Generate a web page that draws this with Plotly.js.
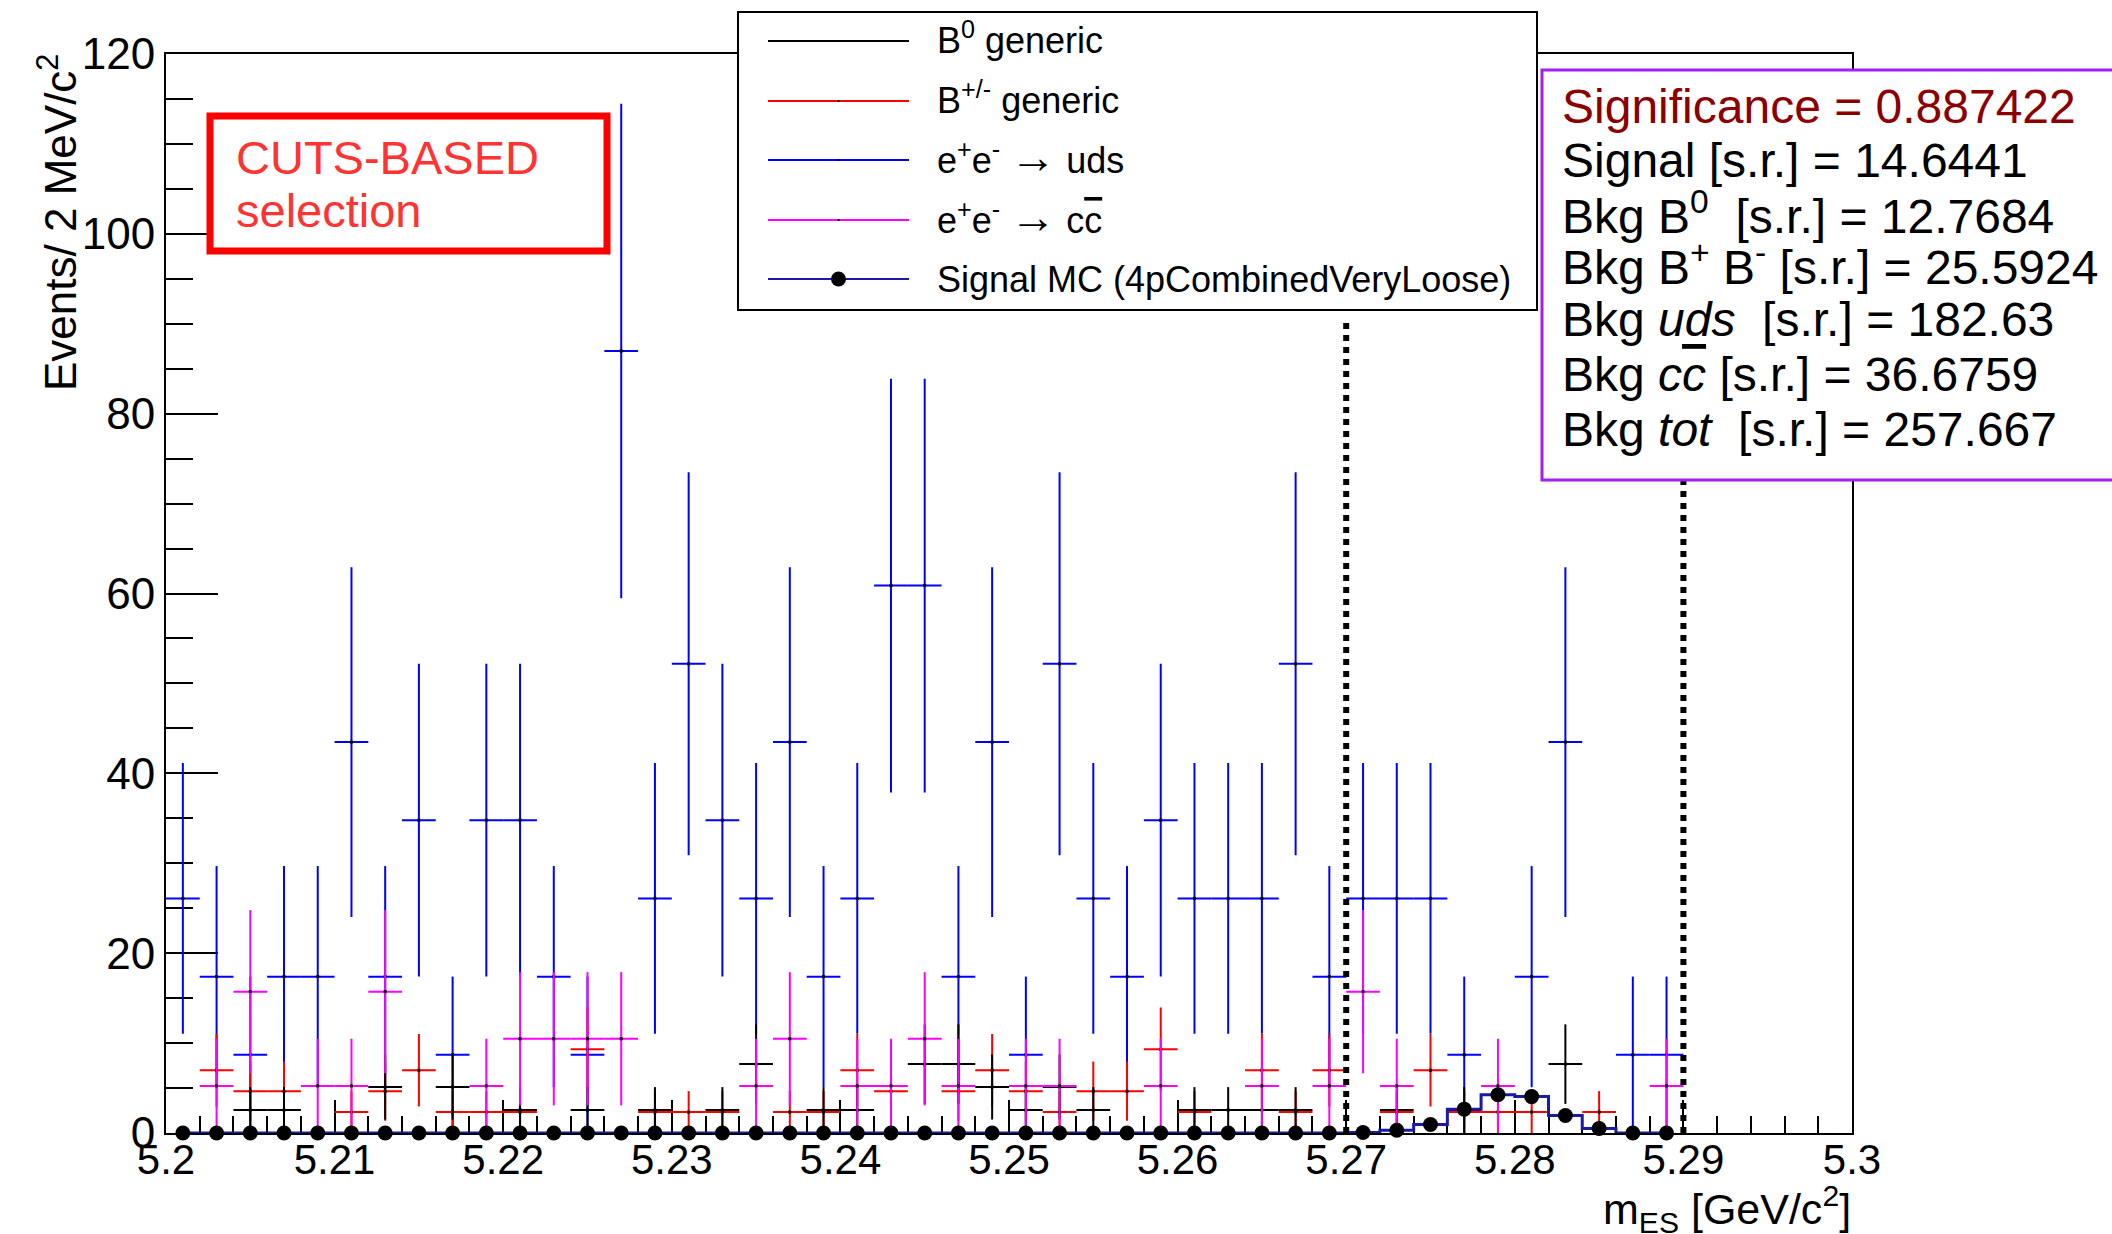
<!DOCTYPE html>
<html><head><meta charset="utf-8">
<script src="https://cdn.plot.ly/plotly-3.0.1.min.js"></script>
<style>html,body{margin:0;padding:0;background:#fff;} #chart{width:2112px;height:1234px;}</style>
</head><body><div id="chart"></div>
<script>
// ---------- data ----------
const mES = [5.201,5.203,5.205,5.207,5.209,5.211,5.213,5.215,5.217,5.219,
             5.221,5.223,5.225,5.227,5.229,5.231,5.233,5.235,5.237,5.239,
             5.241,5.243,5.245,5.247,5.249,5.251,5.253,5.255,5.257,5.259,
             5.261,5.263,5.265,5.267,5.269,5.271,5.273,5.275,5.277,5.279,
             5.281,5.283,5.285,5.287,5.289];

const bkgB0 = [0,0,2.55,2.55,0,0,5.11,0,5.11,0,
               2.55,0,2.55,0,2.55,0,2.55,7.66,0,2.55,
               2.55,0,7.66,7.66,5.11,2.55,5.11,2.55,0,0,
               2.55,2.55,2.55,2.55,0,0,2.55,0,2.55,0,
               0,7.66,0,0,0];

const bkgBpm = [0,6.98,4.65,4.65,0,2.33,4.65,6.98,2.33,2.33,
                2.33,0,9.31,0,2.33,2.33,2.33,0,2.33,2.33,
                6.98,4.65,0,4.65,6.98,4.65,2.33,4.65,4.65,9.31,
                2.33,0,6.98,2.33,6.98,0,2.33,6.98,2.33,2.33,
                2.33,0,2.33,0,0];

const bkgUds = [26.09,17.39,8.70,17.39,17.39,43.48,17.39,34.79,8.70,34.79,
                34.79,17.39,8.70,86.97,26.09,52.18,34.79,26.09,43.48,17.39,
                26.09,60.88,60.88,17.39,43.48,8.70,52.18,26.09,17.39,34.79,
                26.09,26.09,26.09,52.18,17.39,26.09,26.09,26.09,8.70,0,
                17.39,43.48,0,8.70,8.70];

const bkgCc = [0,5.24,15.72,0,5.24,5.24,15.72,0,0,5.24,
               10.48,10.48,10.48,10.48,0,0,0,5.24,10.48,0,
               5.24,5.24,10.48,5.24,0,5.24,5.24,0,0,5.24,
               0,0,5.24,0,5.24,15.72,5.24,0,0,5.24,
               0,0,0,0,5.24];

const sigMC = [0,0,0,0,0,0,0,0,0,0,
               0,0,0,0,0,0,0,0,0,0,
               0,0,0,0,0,0,0,0,0,0,
               0,0,0,0,0,0.05,0.3,0.95,2.65,4.25,
               4.05,1.95,0.5,0,0];

// per-event weights of each weighted MC sample (errors = sqrt(sum w^2))
const wB0 = 2.5537, wBpm = 2.3266, wUds = 8.6967, wCc = 5.2394;
const halfBin = 0.001;
const signalRegion = [5.27, 5.29];
const signalRegionTop = 90.5;

const xTickVals = [5.2,5.21,5.22,5.23,5.24,5.25,5.26,5.27,5.28,5.29,5.3];
const xTickText = ["5.2","5.21","5.22","5.23","5.24","5.25","5.26","5.27","5.28","5.29","5.3"];
const yTickVals = [0,20,40,60,80,100,120];
const yTickText = ["0","20","40","60","80","100","120"];

const ARROW = '<span style="font-size:46px">\u2192</span>';
const legendLabels = ["B<sup>0</sup> generic","B<sup>+/-</sup> generic",
  "e<sup>+</sup>e<sup>-</sup> " + ARROW + " uds",
  "e<sup>+</sup>e<sup>-</sup> " + ARROW + " c<span style=\"text-decoration:overline\">c</span>",
  "Signal MC (4pCombinedVeryLoose)"];
const legendColors = ["#000000","#ff0000","#0000ff","#ff00ff","#1a1aa8"];

const statsLines = [
  "Significance = 0.887422",
  "Signal [s.r.] = 14.6441",
  "Bkg B<sup>0</sup>\u00a0 [s.r.] = 12.7684",
  "Bkg B<sup>+</sup> B<sup>-</sup> [s.r.] = 25.5924",
  "Bkg <i>uds</i>\u00a0 [s.r.] = 182.63",
  "Bkg <i>c<span style=\"text-decoration:overline\">c</span></i> [s.r.] = 36.6759",
  "Bkg <i>tot</i>\u00a0 [s.r.] = 257.667"];

// ---------- layout geometry (pixels) ----------
const L = 166, T = 54, W = 1686, H = 1079;
const px = x => (x - L) / W;
const py = y => (T + H - y) / H;
const FONT = "Liberation Sans, Arial, Helvetica, sans-serif";

function errTrace(name, vals, w, color) {
  return {
    type: 'scatter', mode: 'markers', name: name, x: mES,
    y: vals.map(v => v > 0 ? v : null),
    marker: {size: 3, color: '#000', symbol: 'square'},
    error_y: {type: 'data', array: vals.map(v => v > 0 ? Math.sqrt(v * w) : 0),
              visible: true, color: color, thickness: 2, width: 0},
    error_x: {type: 'constant', value: halfBin, visible: true, color: color, thickness: 2, width: 0},
    showlegend: false, hoverinfo: 'skip', cliponaxis: false
  };
}

const traces = [
  errTrace('e+e- -> uds', bkgUds, wUds, '#0000ff'),
  errTrace('B+/- generic', bkgBpm, wBpm, '#ff0000'),
  errTrace('B0 generic', bkgB0, wB0, '#000000'),
  errTrace('e+e- -> cc', bkgCc, wCc, '#ff00ff'),
  {type: 'scatter', mode: 'lines+markers', name: 'Signal MC', x: mES, y: sigMC,
   line: {shape: 'hvh', color: '#1a1aa8', width: 3},
   marker: {size: 15, color: '#000'}, showlegend: false, hoverinfo: 'skip', cliponaxis: false}
];

const shapes = [];
signalRegion.forEach(xv => shapes.push({type: 'line', xref: 'x', yref: 'y', x0: xv, x1: xv,
  y0: 0, y1: signalRegionTop, line: {color: '#000', width: 6, dash: 'dot'}, layer: 'above'}));
// CUTS-BASED box
shapes.push({type: 'rect', xref: 'paper', yref: 'paper', x0: px(210), x1: px(607), y0: py(251), y1: py(116),
  line: {color: '#ff0000', width: 7}, fillcolor: '#fff', layer: 'above'});
// legend box
shapes.push({type: 'rect', xref: 'paper', yref: 'paper', x0: px(738), x1: px(1537), y0: py(310), y1: py(12),
  line: {color: '#000', width: 2}, fillcolor: '#fff', layer: 'above'});
const rowsY = [41, 101, 160, 220, 279];
rowsY.forEach((ry, i) => {
  shapes.push({type: 'line', xref: 'paper', yref: 'paper', x0: px(768), x1: px(909), y0: py(ry), y1: py(ry),
    line: {color: legendColors[i], width: 2}, layer: 'above'});
  if (i >= 1 && i <= 3) shapes.push({type: 'rect', xref: 'paper', yref: 'paper', x0: px(837.5), x1: px(839.5),
    y0: py(ry + 1), y1: py(ry - 1), line: {width: 0}, fillcolor: '#000', layer: 'above'});
});
shapes.push({type: 'circle', xref: 'paper', yref: 'paper', x0: px(831), x1: px(846),
  y0: py(rowsY[4] + 7.5), y1: py(rowsY[4] - 7.5), line: {width: 0}, fillcolor: '#000', layer: 'above'});
// stats box
shapes.push({type: 'rect', xref: 'paper', yref: 'paper', x0: px(1542), x1: px(2140), y0: py(480), y1: py(70),
  line: {color: '#a020f0', width: 3}, fillcolor: '#fff', layer: 'above'});

const annotations = [];
annotations.push({xref: 'paper', yref: 'paper', x: px(58), y: py(51), xanchor: 'center', yanchor: 'top',
  textangle: -90, showarrow: false, text: 'Events/ 2 MeV/c<sup>2</sup>', font: {family: FONT, size: 44, color: '#000'}});
annotations.push({xref: 'paper', yref: 'paper', x: px(1853), y: py(1209), xanchor: 'right', yanchor: 'middle',
  showarrow: false, text: 'm<sub>ES</sub> [GeV/c<sup>2</sup>]', font: {family: FONT, size: 43, color: '#000'}});
annotations.push({xref: 'paper', yref: 'paper', x: px(234), y: py(157), xanchor: 'left', yanchor: 'middle',
  showarrow: false, text: 'CUTS-BASED', font: {family: FONT, size: 47, color: '#ff3333'}});
annotations.push({xref: 'paper', yref: 'paper', x: px(234), y: py(211), xanchor: 'left', yanchor: 'middle',
  showarrow: false, text: 'selection', font: {family: FONT, size: 47, color: '#ff3333'}});
const legendTextY = [38, 98, 157, 217, 279];
legendLabels.forEach((t, i) => annotations.push({xref: 'paper', yref: 'paper', x: px(935), y: py(legendTextY[i]),
  xanchor: 'left', yanchor: 'middle', showarrow: false, text: t, font: {family: FONT, size: 36, color: '#000'}}));
const statsY = [106, 160.5, 212.5, 264, 319.5, 374.5, 429.5];
statsLines.forEach((t, i) => annotations.push({xref: 'paper', yref: 'paper', x: px(1560), y: py(statsY[i]),
  xanchor: 'left', yanchor: 'middle', showarrow: false, text: t,
  font: {family: FONT, size: 48, color: i === 0 ? '#8c0000' : '#000'}}));

const layout = {
  width: 2112, height: 1234,
  margin: {l: L, r: 2112 - L - W, t: T, b: 1234 - T - H, pad: 0},
  paper_bgcolor: '#fff', plot_bgcolor: '#fff',
  font: {family: FONT, color: '#000'},
  showlegend: false,
  xaxis: {range: [5.2, 5.3], tickmode: 'array', tickvals: xTickVals, ticktext: xTickText,
    ticks: 'inside', ticklen: 33, tickwidth: 2, tickcolor: '#000', ticklabelstandoff: -11,
    minor: {tickmode: 'linear', tick0: 5.2, dtick: 0.002, ticks: 'inside', ticklen: 17, tickwidth: 2, tickcolor: '#000'},
    showline: true, linecolor: '#000', linewidth: 2, mirror: true, showgrid: false, zeroline: false,
    tickfont: {family: FONT, size: 42, color: '#000'}, layer: 'below traces', fixedrange: true},
  yaxis: {range: [0, 120], tickmode: 'array', tickvals: yTickVals, ticktext: yTickText,
    ticks: 'inside', ticklen: 52, tickwidth: 2, tickcolor: '#000',
    minor: {tickmode: 'linear', tick0: 0, dtick: 5, ticks: 'inside', ticklen: 27, tickwidth: 2, tickcolor: '#000'},
    showline: true, linecolor: '#000', linewidth: 2, mirror: true, showgrid: false, zeroline: false,
    tickfont: {family: FONT, size: 44, color: '#000'}, layer: 'below traces', fixedrange: true},
  shapes: shapes,
  annotations: annotations
};

Plotly.newPlot('chart', traces, layout, {displayModeBar: false, staticPlot: true});
</script>
</body></html>
